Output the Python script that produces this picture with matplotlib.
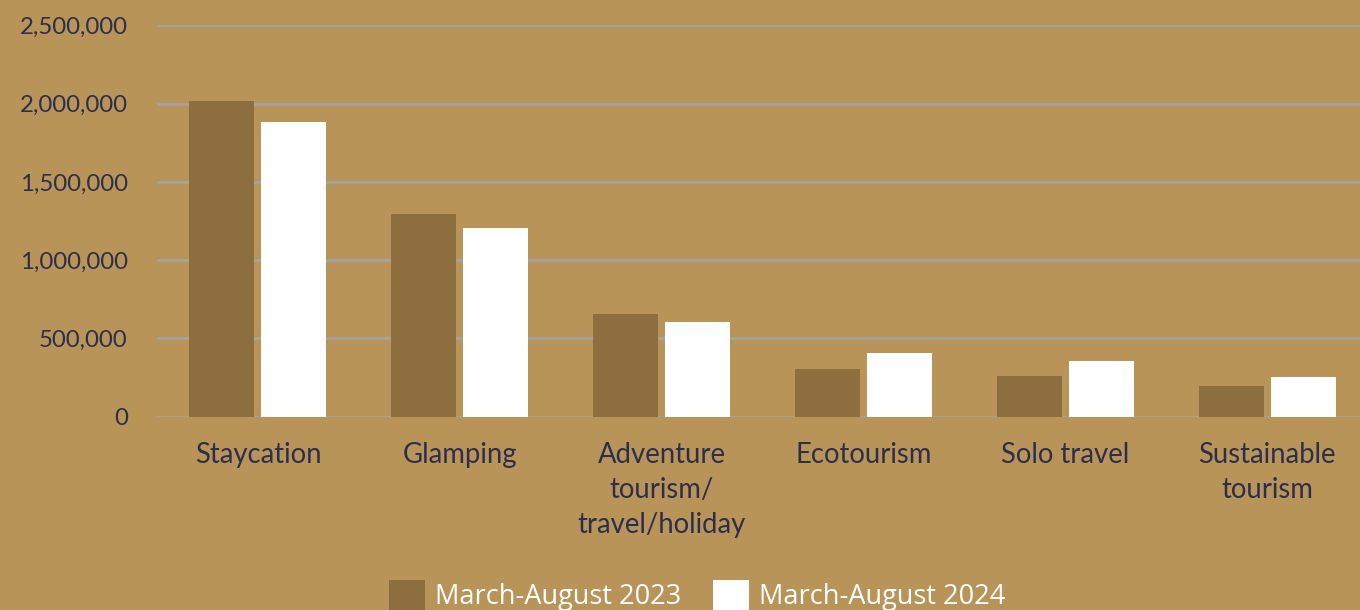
import matplotlib.pyplot as plt
import numpy as np

categories = ["Staycation", "Glamping", "Adventure\ntourism/\ntravel/holiday",
              "Ecotourism", "Solo travel", "Sustainable\ntourism"]
values_2023 = [2020000, 1295000, 655000, 306000, 259000, 195000]
values_2024 = [1886000, 1203000, 604000, 408000, 353000, 253000]
labels = ["March-August 2023", "March-August 2024"]
yticks = [0, 500000, 1000000, 1500000, 2000000, 2500000]

BG = "#B89459"
DARK = "#8D6E3F"
NAVY = "#2C2F4C"

fig = plt.figure(figsize=(13.6, 6.1), dpi=100, facecolor=BG)
ax = fig.add_axes([0.1154, 0.3172, 0.8846, 0.6410])
ax.set_facecolor(BG)

x = np.arange(len(categories))
w = 0.322
ax.bar(x - 0.1785, values_2023, w, color=DARK, label=labels[0], zorder=3)
ax.bar(x + 0.1785, values_2024, w, color="white", label=labels[1], zorder=3)

ax.set_xlim(-0.5, 5.46)
ax.set_ylim(0, 2500000)
ax.set_yticks(yticks)
ax.set_yticklabels([f"{v:,}" for v in yticks])
ax.grid(axis="y", color="#A3A3A3", linewidth=2, zorder=0)
for s in ax.spines.values():
    s.set_visible(False)
ax.tick_params(axis="y", length=0, pad=21, labelsize=17.3, labelcolor=NAVY)
ax.tick_params(axis="x", length=0, pad=18.5, labelsize=19.8, labelcolor=NAVY)
ax.set_xticks(x)
ax.set_xticklabels(categories, linespacing=1.42)
for t in ax.get_xticklabels() + ax.get_yticklabels():
    t.set_fontfamily("Lato")

fig.legend(loc="upper center", bbox_to_anchor=(0.5125, 0.05), ncol=2, frameon=False,
           prop={"family": "Open Sans", "size": 19.5}, labelcolor="white",
           handlelength=1.33, handleheight=1.33, handletextpad=0.37,
           columnspacing=1.18, borderpad=0, borderaxespad=0)

fig.savefig("out.png", dpi=100, facecolor=BG)
